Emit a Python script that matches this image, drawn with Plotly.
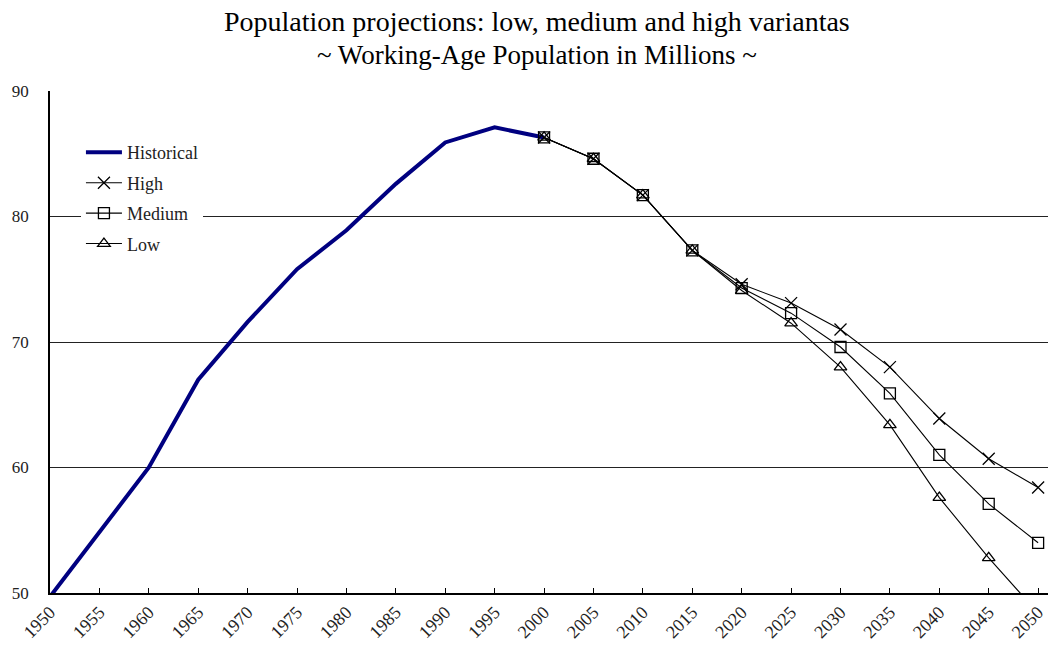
import plotly.graph_objects as go

# Working-age population, millions
hist_years = [1950, 1955, 1960, 1965, 1970, 1975, 1980, 1985, 1990, 1995, 2000]
hist_values = [49.7, 54.8, 60.0, 67.0, 71.6, 75.8, 78.9, 82.6, 85.9, 87.1, 86.3]

proj_years = [2000, 2005, 2010, 2015, 2020, 2025, 2030, 2035, 2040, 2045, 2050]
high_values = [86.3, 84.6, 81.7, 77.3, 74.6, 73.1, 71.0, 68.0, 63.9, 60.7, 58.4]
medium_values = [86.3, 84.6, 81.7, 77.3, 74.3, 72.3, 69.6, 65.9, 61.0, 57.1, 54.0]
low_values = [86.3, 84.6, 81.7, 77.3, 74.1, 71.5, 68.0, 63.4, 57.6, 52.8, 48.4]

x_ticks = list(range(1950, 2051, 5))
y_ticks = [50, 60, 70, 80, 90]

SERIF = "Liberation Serif"

fig = go.Figure()

fig.add_trace(go.Scatter(
    x=hist_years, y=hist_values, name="Historical", mode="lines",
    line=dict(color="#000080", width=4), legendgroup="h",
))
fig.add_trace(go.Scatter(
    x=proj_years, y=high_values, name="High", mode="lines+markers",
    line=dict(color="black", width=1.1),
    marker=dict(symbol="x-thin-open", size=12, color="black",
                line=dict(color="black", width=1.3)),
    legendgroup="hi",
))
fig.add_trace(go.Scatter(
    x=proj_years, y=medium_values, name="Medium", mode="lines+markers",
    line=dict(color="black", width=1.1),
    marker=dict(symbol="square-open", size=11, color="black",
                line=dict(color="black", width=1.3)),
    legendgroup="me",
))
fig.add_trace(go.Scatter(
    x=proj_years, y=low_values, name="Low", mode="lines+markers",
    line=dict(color="black", width=1.1),
    marker=dict(symbol="triangle-up-open", size=11, color="black",
                line=dict(color="black", width=1.3)),
    legendgroup="lo",
))

fig.update_layout(
    width=1048, height=647,
    margin=dict(l=50, r=0, t=91, b=54),
    paper_bgcolor="white", plot_bgcolor="white",
    font=dict(family=SERIF, color="#222"),
    showlegend=True,
    legend=dict(
        x=0.031, y=0.914, xanchor="left", yanchor="top",
        bgcolor="white", borderwidth=0,
        font=dict(family=SERIF, size=18, color="#222"),
        tracegroupgap=4, itemwidth=36,
    ),
    annotations=[
        dict(text="Population projections: low, medium and high variantas",
             x=0.488, y=1.0, xref="paper", yref="paper", yanchor="bottom",
             yshift=52, showarrow=False,
             font=dict(family=SERIF, size=28, color="black")),
        dict(text="~ Working-Age Population in Millions ~",
             x=0.488, y=1.0, xref="paper", yref="paper", yanchor="bottom",
             yshift=19, showarrow=False,
             font=dict(family=SERIF, size=27, color="black")),
    ],
)

fig.update_xaxes(
    range=[1950, 2051], tickvals=x_ticks, ticktext=[str(v) for v in x_ticks],
    tickangle=-45, ticks="inside", ticklen=5, tickcolor="black",
    ticklabeloverflow="allow", automargin=False,
    showline=True, linecolor="black", linewidth=1.5,
    showgrid=False, zeroline=False,
    tickfont=dict(family=SERIF, size=18, color="#222"),
)
fig.update_yaxes(
    range=[50, 90], tickvals=y_ticks, ticks="", automargin=False,
    showline=True, linecolor="black", linewidth=1.5,
    showgrid=True, gridcolor="#222", gridwidth=1, zeroline=False,
    ticklabelstandoff=16,
    tickfont=dict(family=SERIF, size=17, color="#222"),
)

fig.write_html("out.html")
